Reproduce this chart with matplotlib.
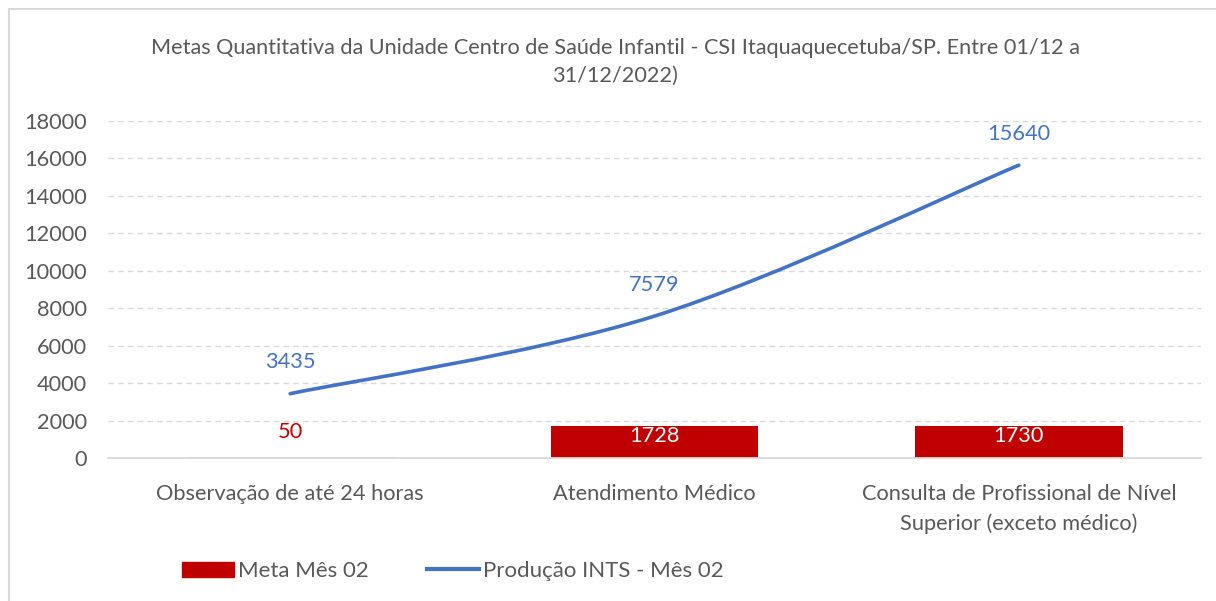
import matplotlib
matplotlib.use("Agg")
import matplotlib.pyplot as plt
import numpy as np
from matplotlib.path import Path
from matplotlib.patches import PathPatch, Rectangle
from matplotlib.lines import Line2D
from matplotlib.patches import Patch

categories = ["Observação de até 24 horas", "Atendimento Médico",
              "Consulta de Profissional de Nível\nSuperior (exceto médico)"]
meta = [50, 1728, 1730]
producao = [3435, 7579, 15640]
yticks = [0, 2000, 4000, 6000, 8000, 10000, 12000, 14000, 16000, 18000]
title = "Metas Quantitativa da Unidade Centro de Saúde Infantil - CSI Itaquaquecetuba/SP. Entre 01/12 a\n31/12/2022)"

RED = "#C00000"
BLUE = "#4472C4"
GRAY = "#595959"
plt.rcParams['font.family'] = ['Lato', 'DejaVu Sans']

fig = plt.figure(figsize=(12.16, 6.01), dpi=100)
ax = fig.add_axes([108/1216, 1-458/601, (1201-108)/1216, (458-121)/601])

# chart border (left/top visible)
fig.patches.append(Rectangle((9/1216, -0.1), 1.2, 1 - 9/601 + 0.1, transform=fig.transFigure,
                             fill=False, edgecolor="#D9D9D9", linewidth=1.5))

x = np.arange(len(categories))
bars = ax.bar(x, meta, width=0.57, color=RED, zorder=2)
bars[0].set_alpha(0.25)

# smooth line (Catmull-Rom bezier through data points)
pts = np.column_stack([x, producao]).astype(float)
ext = np.vstack([pts[0], pts, pts[-1]])
verts = [tuple(pts[0])]
codes = [Path.MOVETO]
for i in range(len(pts) - 1):
    p0, p1, p2, p3 = ext[i], ext[i+1], ext[i+2], ext[i+3]
    c1 = p1 + (p2 - p0) / 6
    c2 = p2 - (p3 - p1) / 6
    verts += [tuple(c1), tuple(c2), tuple(p2)]
    codes += [Path.CURVE4] * 3
ax.add_patch(PathPatch(Path(verts, codes), fill=False, edgecolor=BLUE, linewidth=2.6,
                       capstyle='round', zorder=3))

FS = 15.7
# labels
for i, v in enumerate(meta):
    if v < 500:
        ax.text(i, v + 800, str(v), ha='center', va='bottom', color=RED, fontsize=FS)
    else:
        ax.text(i, v - 30, str(v), ha='center', va='top', color='white', fontsize=FS)
for i, v in enumerate(producao):
    ax.text(i, v + 1150, str(v), ha='center', va='bottom', color=BLUE, fontsize=FS)

ax.set_xlim(-0.5, 2.5)
ax.set_ylim(0, 18000)
ax.set_yticks(yticks)
ax.set_yticklabels([str(t) for t in yticks])
ax.set_xticks(x)
ax.set_xticklabels(categories, linespacing=1.55)
ax.tick_params(axis='both', length=0, colors=GRAY, labelsize=FS)
ax.tick_params(axis='x', pad=19)
ax.tick_params(axis='y', pad=15)
ax.yaxis.grid(True, color="#D9D9D9", linestyle=(0, (4, 3)), linewidth=1, zorder=0)
ax.set_axisbelow(True)
for s in ['top', 'right', 'left']:
    ax.spines[s].set_visible(False)
ax.spines['bottom'].set_color("#D9D9D9")
ax.spines['bottom'].set_linewidth(1.3)

fig.text(615/1216, 1-62/601, title, ha='center', va='center', color=GRAY, fontsize=15.6,
         linespacing=1.5)

handles = [Patch(facecolor=RED, edgecolor=RED), Line2D([0], [0], color=BLUE, linewidth=3)]
fig.legend(handles, ["Meta Mês 02", "Produção INTS - Mês 02"], loc='center',
           bbox_to_anchor=(453/1216, 1-571/601), ncol=2, frameon=False, fontsize=16,
           labelcolor=GRAY, handlelength=2.35, handletextpad=0.18, columnspacing=2.6,
           handleheight=0.65)

fig.savefig("out.png", dpi=100, facecolor="white")
